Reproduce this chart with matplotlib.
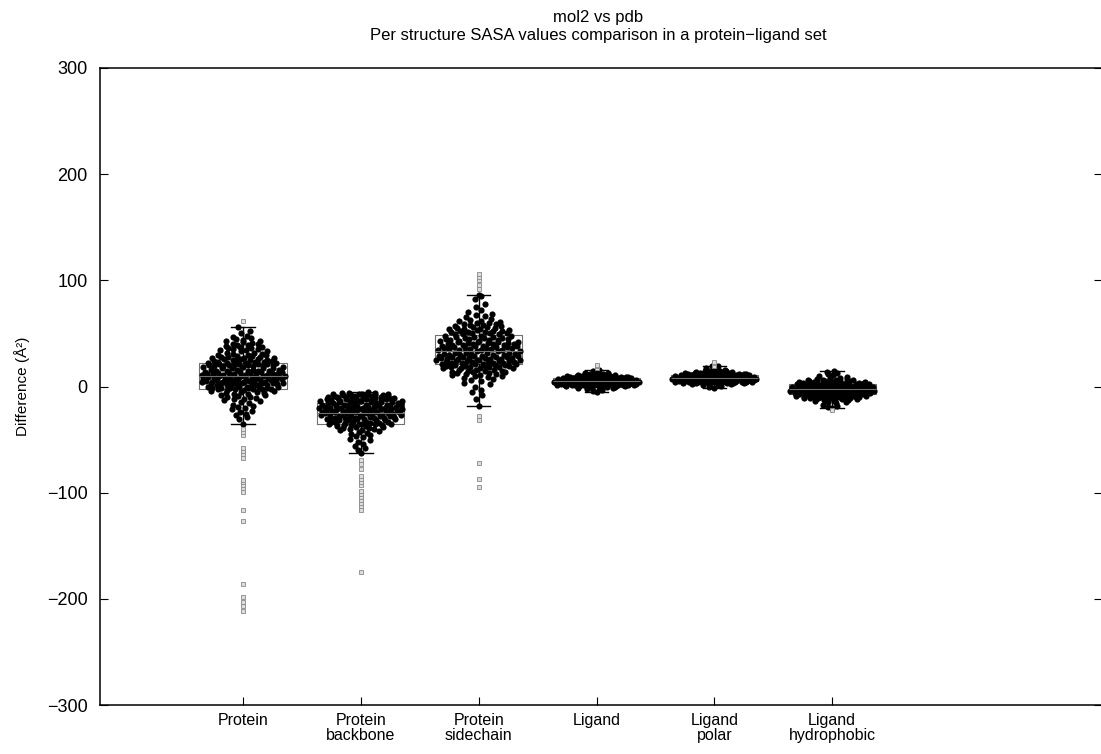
import numpy as np
import matplotlib
matplotlib.use("Agg")
import matplotlib.pyplot as plt
from matplotlib import cbook

plt.rcParams['font.family'] = ['Liberation Sans', 'DejaVu Sans']

# category labels
labels = ["Protein", "Protein\nbackbone", "Protein\nsidechain",
          "Ligand", "Ligand\npolar", "Ligand\nhydrophobic"]

# per structure SASA differences (mol2 - pdb), A^2
protein = [
    -211, -207, -203, -198, -186, -127, -116, -99, -96, -93, -90, -88,
    -67, -64, -61, -58, -46, -43, -40,
    -35, -31, -29, -27, -26, -24, -23, -21, -20, -19, -18, -17, -16, -15,
    -14, -13, -12, -12, -11, -10, -10, -9, -8, -8, -7, -7, -6, -6, -5, -5,
    -4, -4, -3, -3, -2.5, -2.5,
    -2, -2, -2, -1, -1, -1, -1, -1, 0, 0, 0, 0, 0, 1, 1, 1, 1, 2, 2, 2, 2, 2,
    3, 3, 3, 3, 3, 4, 4, 4, 4, 4, 5, 5, 5, 5, 5, 6, 6, 6, 6, 7, 7, 7, 7, 7,
    8, 8, 8, 8, 9, 9, 9, 9, 9,
    10, 10, 10, 10, 11, 11, 11, 11, 12, 12, 12, 12, 12, 13, 13, 13, 13,
    14, 14, 14, 14, 15, 15, 15, 15, 15, 16, 16, 16, 16, 17, 17, 17, 17,
    18, 18, 18, 18, 19, 19, 19, 19, 20, 20, 20, 20, 20, 21, 21, 21, 21,
    22, 22, 22, 22,
    23, 23, 23, 24, 24, 24, 25, 25, 25, 26, 26, 26, 27, 27, 27, 28, 28, 28,
    29, 29, 30, 30, 30, 31, 31, 32, 32, 33, 33, 34, 34, 35, 35, 36, 36, 37, 37,
    38, 39, 39, 40, 40, 41, 42, 43, 43, 44, 45, 46, 47, 48, 50, 52, 56,
    62,
]

backbone = [
    -175, -116, -113, -110, -107, -104, -101, -98, -93, -90, -87, -84, -78,
    -73, -69,
    -63, -60, -58, -56, -54, -52, -50, -49, -48, -47, -46, -45, -44, -43,
    -42, -41, -41, -40, -40, -39, -39, -38, -38, -37, -37, -36, -36, -36,
    -35, -35,
    -35, -35, -35, -34, -34, -34, -34, -33, -33, -33, -33, -32, -32, -32, -32,
    -31, -31, -31, -31, -30, -30, -30, -30, -30, -29, -29, -29, -29,
    -28, -28, -28, -28, -27, -27, -27, -27, -27, -26, -26, -26, -26,
    -25, -25, -25, -25,
    -24, -24, -24, -24, -24, -23, -23, -23, -23, -23, -22, -22, -22, -22, -22,
    -21, -21, -21, -21, -21, -20, -20, -20, -20, -20, -19, -19, -19, -19, -19,
    -18, -18, -18, -18, -18, -17, -17, -17, -17, -17, -16, -16, -16, -16, -16,
    -15, -15, -15, -15, -15, -14, -14, -14, -14, -14, -13, -13, -13, -13,
    -12, -12, -12, -12, -12, -11, -11, -11, -11, -10, -10, -10, -10, -10,
    -9, -9, -9, -9, -8, -8, -8, -8, -8, -7, -7, -7, -7, -6, -6, -6, -5,
]

sidechain = [
    -95, -87, -72, -32, -28,
    -18, -12, -8, -5, -3, 0, 2, 3, 5, 6, 7, 8, 9, 10, 10, 11, 11, 12, 12,
    13, 13, 14, 14, 14, 15, 15, 15, 16, 16, 16, 17, 17, 17, 17, 18, 18, 18,
    18, 19, 19, 19, 19, 20, 20, 20,
    21, 21, 21, 21, 22, 22, 22, 22, 23, 23, 23, 23, 24, 24, 24, 24,
    25, 25, 25, 25, 26, 26, 26, 26, 27, 27, 27, 27, 28, 28, 28, 28,
    29, 29, 29, 29, 30, 30, 30, 30, 31, 31, 31, 32, 32, 32, 32, 33, 33, 33,
    34, 34, 34, 34, 35, 35, 35, 36, 36, 36, 36, 37, 37, 37, 38, 38, 38, 38,
    39, 39, 39, 40, 40, 40, 40, 41, 41, 41, 42, 42, 42, 42, 43, 43, 43,
    44, 44, 44, 45, 45, 45, 46, 46, 46, 47, 47, 47, 48, 48, 48,
    49, 49, 49, 50, 50, 50, 51, 51, 51, 52, 52, 52, 53, 53, 54, 54, 54,
    55, 55, 56, 56, 57, 57, 58, 58, 59, 59, 60, 60, 61, 62, 62,
    63, 64, 65, 66, 67, 68, 70, 72, 75, 78, 82, 85, 86,
    92, 96, 100, 103, 106,
]

ligand = [
    -5, -4, -3, -2.5, -2, -1.5, -1, -1, -0.5, -0.5, 0, 0, 0,
    0.5, 0.5, 0.5, 0.5, 1, 1, 1, 1, 1, 1.5, 1.5, 1.5, 1.5, 1.5, 1.5,
    1.8, 1.8, 1.8, 1.8, 1.8, 1.8, 1.8, 1.9, 1.9,
    2.2, 2.2, 2.2, 2.2, 2.5, 2.5, 2.5, 2.5, 2.8, 2.8, 2.8, 2.8, 3, 3, 3, 3,
    3.3, 3.3, 3.3, 3.3, 3.6, 3.6, 3.6, 3.6, 4, 4, 4, 4, 4.3, 4.3, 4.3,
    4.6, 4.6, 4.6, 4.6, 4.9, 4.9, 4.9,
    5.2, 5.2, 5.2, 5.2, 5.5, 5.5, 5.5, 5.5, 5.8, 5.8, 5.8, 5.8, 6, 6, 6, 6,
    6.3, 6.3, 6.3, 6.3, 6.6, 6.6, 6.6, 6.6, 7, 7, 7, 7, 7.3, 7.3, 7.3,
    7.6, 7.6, 7.6, 7.6, 7.9, 7.9, 7.9,
    8.2, 8.2, 8.2, 8.2, 8.5, 8.5, 8.5, 8.5, 8.8, 8.8, 8.8, 9, 9, 9,
    9.5, 9.5, 9.5, 10, 10, 10, 10.5, 10.5, 11, 11, 11.5, 11.5, 12, 12, 12.5,
    13, 13, 14, 15, 16, 17, 19, 20,
]

ligand_polar = [
    -1, 0, 0.5, 1, 1.5, 2, 2, 2.5, 2.5, 3, 3, 3, 3.5, 3.5, 3.5, 3.5,
    4, 4, 4, 4, 4, 4.3, 4.3, 4.3, 4.3, 4.5, 4.5, 4.5, 4.5, 4.7, 4.7, 4.7, 4.7,
    4.8, 4.8, 4.9, 4.9,
    5.2, 5.2, 5.2, 5.2, 5.5, 5.5, 5.5, 5.5, 5.8, 5.8, 5.8, 5.8, 6, 6, 6, 6,
    6.3, 6.3, 6.3, 6.3, 6.6, 6.6, 6.6, 6.6, 7, 7, 7, 7, 7.3, 7.3, 7.3,
    7.6, 7.6, 7.6, 7.6, 7.9, 7.9, 7.9,
    8.2, 8.2, 8.2, 8.2, 8.5, 8.5, 8.5, 8.5, 8.8, 8.8, 8.8, 8.8, 9, 9, 9, 9,
    9.3, 9.3, 9.3, 9.3, 9.6, 9.6, 9.6, 9.6, 10, 10, 10, 10, 10.3, 10.3, 10.3,
    10.6, 10.6, 10.6, 10.6, 10.9, 10.9, 10.9,
    11.2, 11.2, 11.2, 11.2, 11.5, 11.5, 11.5, 11.5, 11.8, 11.8, 11.8,
    12, 12, 12, 12.5, 12.5, 12.5, 13, 13, 13, 13.5, 13.5, 14, 14, 14.5, 14.5,
    15, 15, 16, 16, 17, 18, 19, 19, 19.5, 22.5, 23,
]

ligand_hydrophobic = [
    -22, -20, -19, -18, -17, -16, -15, -14.5, -14, -13.5, -13, -12.5, -12,
    -12, -11.5, -11.5, -11, -11, -10.5, -10.5, -10.5, -10, -10, -10,
    -9.5, -9.5, -9.5, -9.5, -9, -9, -9, -9, -8.5, -8.5, -8.5, -8.5, -8.2,
    -7.5, -7.5, -7.5, -7.5, -7, -7, -7, -7, -6.5, -6.5, -6.5, -6.5,
    -6, -6, -6, -6, -5.5, -5.5, -5.5, -5.5, -5, -5, -5, -5,
    -4.5, -4.5, -4.5, -4.5, -4, -4, -4, -4, -3.5, -3.5, -3.5, -3, -3, -3,
    -2.5, -2.5, -2.5, -2.5, -2, -2, -2, -2, -1.5, -1.5, -1.5, -1.5,
    -1, -1, -1, -1, -0.5, -0.5, -0.5, -0.5, 0, 0, 0, 0, 0.5, 0.5, 0.5, 0.5,
    1, 1, 1, 1, 1.5, 1.5, 1.5, 2, 2, 2,
    2.5, 2.5, 2.5, 2.5, 3, 3, 3, 3, 3.5, 3.5, 3.5, 4, 4, 4, 4.5, 4.5, 4.5,
    5, 5, 5, 5.5, 5.5, 6, 6, 6.5, 6.5, 7, 7, 8, 8,
    9, 10, 11, 12, 13, 14, 15,
]

groups = [protein, backbone, sidechain, ligand, ligand_polar, ligand_hydrophobic]


def van_der_corput(n):
    # base-2 low discrepancy sequence
    seq = np.zeros(n)
    for i in range(n):
        k, f, r = i + 1, 0.5, 0.0
        while k > 0:
            r += f * (k % 2)
            k //= 2
            f *= 0.5
        seq[i] = r
    return seq


def quasirandom_offsets(y, width):
    y = np.asarray(y, dtype=float)
    n = len(y)
    sd = np.std(y)
    q75, q25 = np.percentile(y, [75, 25])
    bw = 1.2 * min(sd, (q75 - q25) / 1.34) * n ** -0.2
    dens = np.exp(-0.5 * ((y[:, None] - y[None, :]) / bw) ** 2).sum(axis=1)
    dens = (dens / dens.max()) ** 0.75
    order = np.argsort(y, kind="stable")
    ranks = np.empty(n, dtype=int)
    ranks[order] = np.arange(n)
    vdc = van_der_corput(n)[ranks]
    return (vdc - 0.5) * 2 * width * dens


fig = plt.figure(figsize=(11.01, 7.54), dpi=100)
ax = fig.add_axes([100 / 1101, 49 / 754, 1002 / 1101, 637 / 754])

positions = np.arange(1, len(groups) + 1)
stats = cbook.boxplot_stats(groups, whis=1.5)

ax.bxp(stats, positions=positions, widths=0.74, capwidths=0.2,
       boxprops=dict(color="#707070", linewidth=0.8),
       medianprops=dict(color="#707070", linewidth=0.8),
       whiskerprops=dict(color="black", linewidth=1.0, zorder=3),
       capprops=dict(color="black", linewidth=1.0, zorder=3),
       flierprops=dict(marker="s", markersize=3.2, markerfacecolor="#dddddd",
                       markeredgecolor="#888888", markeredgewidth=0.6, zorder=3),
       showfliers=True)

for pos, vals, st in zip(positions, groups, stats):
    vals = np.asarray(vals, dtype=float)
    inner = vals[(vals >= st["whislo"]) & (vals <= st["whishi"])]
    dx = quasirandom_offsets(inner, 0.37)
    ax.scatter(pos + dx, inner, s=20, color="black", linewidths=0, zorder=2)

ax.set_xlim(-0.214, 8.29)
ax.set_ylim(-300, 300)
ax.set_xticks(positions)
ax.set_xticklabels(labels, fontsize=11.5, linespacing=0.95)
ax.set_yticks([-300, -200, -100, 0, 100, 200, 300])
ax.tick_params(axis="y", direction="in", length=6, width=0.8, labelsize=13,
               pad=9, right=True)
ax.tick_params(axis="x", direction="in", length=6, width=0.8, pad=6)
for sp in ax.spines.values():
    sp.set_linewidth(1.1)

ax.set_ylabel("Difference (Å²)", fontsize=11, labelpad=12)
ax.set_title("mol2 vs pdb\nPer structure SASA values comparison in a protein−ligand set",
             fontsize=12, linespacing=1.3, pad=20, x=0.497)

fig.savefig("out.png", dpi=100)
